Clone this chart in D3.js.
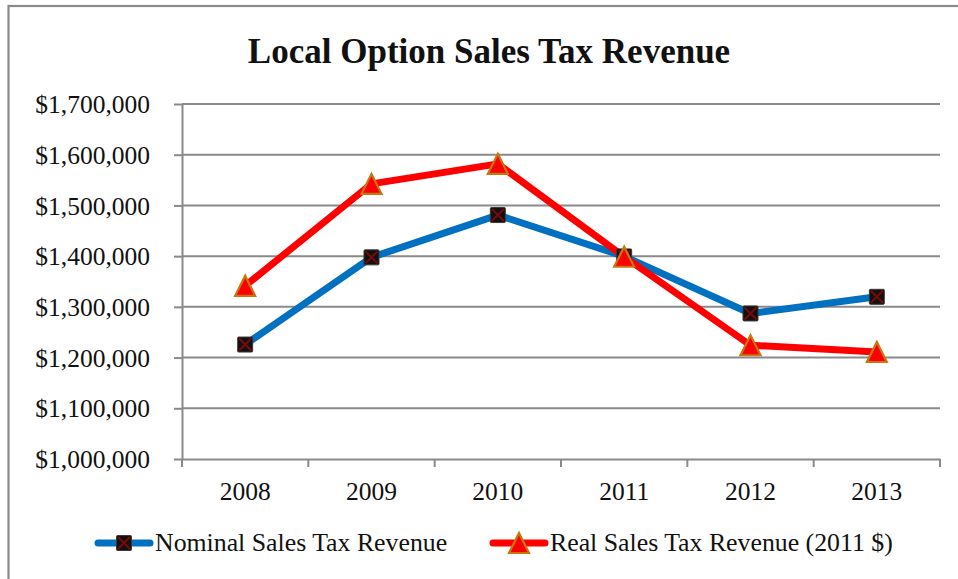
<!DOCTYPE html>
<html>
<head>
<meta charset="utf-8">
<script src="https://cdn.jsdelivr.net/npm/d3@7"></script>
<style>
  html, body { margin: 0; padding: 0; background: #fff; }
  svg { display: block; }
  text { font-family: "Liberation Serif", "Times New Roman", serif; fill: #111; }
</style>
</head>
<body>
<svg id="chart" width="958" height="579"></svg>
<script>
// ---- data ----
const title = "Local Option Sales Tax Revenue";
const years = ["2008", "2009", "2010", "2011", "2012", "2013"];
const nominal = [1225700, 1397600, 1481000, 1399500, 1287000, 1319800];
const real = [1341500, 1542500, 1582000, 1398800, 1224300, 1211000];
const yTicks = [1000000, 1100000, 1200000, 1300000, 1400000, 1500000, 1600000, 1700000];
const seriesNames = ["Nominal Sales Tax Revenue", "Real Sales Tax Revenue (2011 $)"];

// ---- layout ----
const W = 958, H = 579;
const plot = { left: 182, right: 940, top: 104, bottom: 459 };
const grey = "#8a8a8a";
const blue = "#0070C0", red = "#FF0000";

const svg = d3.select("#chart");

// outer frame
svg.append("rect")
  .attr("x", 8.5).attr("y", 6).attr("width", W + 10).attr("height", H + 10)
  .attr("fill", "none").attr("stroke", grey).attr("stroke-width", 2.2);

// title
svg.append("text")
  .attr("x", 489).attr("y", 62.5)
  .attr("text-anchor", "middle")
  .attr("font-size", 35).attr("font-weight", "bold")
  .text(title);

const x = d3.scaleBand().domain(years).range([plot.left, plot.right]);
const y = d3.scaleLinear().domain([1000000, 1700000]).range([plot.bottom, plot.top]);
const fmt = v => "$" + d3.format(",")(v);

// gridlines
svg.append("g").selectAll("line")
  .data(yTicks.slice(1))
  .join("line")
  .attr("x1", plot.left).attr("x2", plot.right)
  .attr("y1", d => y(d)).attr("y2", d => y(d))
  .attr("stroke", grey).attr("stroke-width", 2);

// y axis
const yAxis = svg.append("g")
  .attr("transform", `translate(${plot.left},0)`)
  .call(d3.axisLeft(y).tickValues(yTicks).tickFormat(fmt).tickSize(8).tickSizeOuter(0).tickPadding(24));
yAxis.select(".domain").attr("stroke", grey).attr("stroke-width", 2);
yAxis.selectAll(".tick line").attr("stroke", grey).attr("stroke-width", 2);
yAxis.selectAll(".tick text")
  .attr("font-size", 25.5).attr("font-family", "Liberation Serif, serif").attr("fill", "#111")
  .attr("dy", "0.34em");

// x axis (labels at band centers, ticks at band boundaries)
const xAxis = svg.append("g")
  .attr("transform", `translate(0,${plot.bottom})`)
  .call(d3.axisBottom(x).tickSize(0).tickSizeOuter(0).tickPadding(23));
xAxis.select(".domain").attr("stroke", grey).attr("stroke-width", 2);
xAxis.selectAll(".tick text")
  .attr("font-size", 25.5).attr("font-family", "Liberation Serif, serif").attr("fill", "#111");
const boundaries = years.map(d => x(d)).concat([x.range()[1]]);
xAxis.append("g").selectAll("line")
  .data(boundaries)
  .join("line")
  .attr("x1", d => d).attr("x2", d => d)
  .attr("y1", 0).attr("y2", 8)
  .attr("stroke", grey).attr("stroke-width", 2);

const cx = d => x(d) + x.bandwidth() / 2;

// lines
const line = d3.line().x(d => cx(d.year)).y(d => y(d.v));
const nomData = years.map((yr, i) => ({ year: yr, v: nominal[i] }));
const realData = years.map((yr, i) => ({ year: yr, v: real[i] }));

svg.append("path").datum(nomData)
  .attr("d", line).attr("fill", "none")
  .attr("stroke", blue).attr("stroke-width", 7).attr("stroke-linejoin", "round");
svg.append("path").datum(realData)
  .attr("d", line).attr("fill", "none")
  .attr("stroke", red).attr("stroke-width", 7).attr("stroke-linejoin", "round");

// markers
function squareMarker(g) {
  g.append("rect").attr("x", -7.5).attr("y", -7.5).attr("width", 15).attr("height", 15)
    .attr("rx", 1).attr("fill", "#141010").attr("stroke", "#3a3a3a").attr("stroke-width", 1);
  g.append("path").attr("d", "M-6,-6L6,6M6,-6L-6,6")
    .attr("stroke", "#7a0a0a").attr("stroke-width", 2).attr("fill", "none");
}
function triMarker(g) {
  g.append("path").attr("d", "M0,-10L10,10L-10,10Z")
    .attr("fill", red).attr("stroke", "#C8760E").attr("stroke-width", 2.2)
    .attr("stroke-linejoin", "miter");
}

svg.append("g").selectAll("g")
  .data(nomData).join("g")
  .attr("transform", d => `translate(${cx(d.year)},${y(d.v)})`)
  .each(function () { squareMarker(d3.select(this)); });

svg.append("g").selectAll("g")
  .data(realData).join("g")
  .attr("transform", d => `translate(${cx(d.year)},${y(d.v)})`)
  .each(function () { triMarker(d3.select(this)); });

// legend
const legendY = 543;
const legendItems = [
  { name: seriesNames[0], color: blue, x0: 95, marker: squareMarker },
  { name: seriesNames[1], color: red, x0: 490, marker: triMarker }
];
legendItems.forEach(it => {
  const g = svg.append("g");
  g.append("line")
    .attr("x1", it.x0 + 3).attr("x2", it.x0 + 55)
    .attr("y1", legendY).attr("y2", legendY)
    .attr("stroke", it.color).attr("stroke-width", 7).attr("stroke-linecap", "round");
  const m = g.append("g").attr("transform", `translate(${it.x0 + 29},${legendY})`);
  it.marker(m);
  g.append("text")
    .attr("x", it.x0 + 60).attr("y", legendY + 8)
    .attr("font-size", 25.8)
    .text(it.name);
});
</script>
</body>
</html>
